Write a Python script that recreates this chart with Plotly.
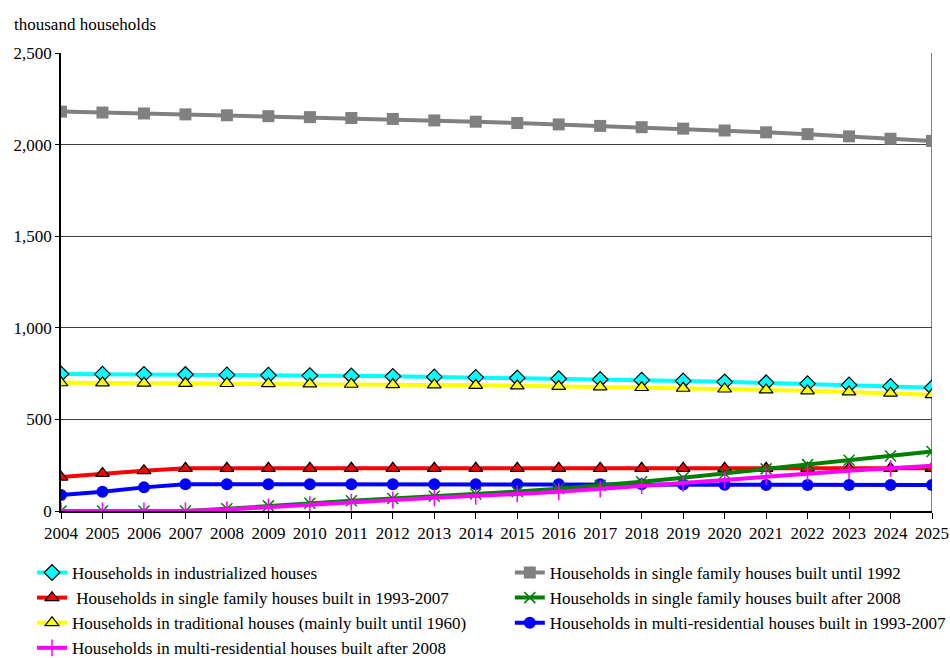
import plotly.graph_objects as go

years = list(range(2004, 2026))

industrialized = [748, 747, 746, 745, 743, 741, 739, 737, 735, 732, 729,
                  726, 722, 718, 714, 710, 705, 700, 695, 688, 680, 673]
sf_until_1992 = [2180, 2175, 2170, 2165, 2160, 2155, 2150, 2145, 2140, 2132, 2125,
                 2118, 2110, 2102, 2095, 2087, 2077, 2067, 2057, 2045, 2032, 2020]
sf_1993_2007 = [185, 205, 220, 233, 233, 233, 233, 233, 233, 233, 233,
                233, 233, 233, 233, 233, 233, 233, 233, 233, 233, 233]
sf_after_2008 = [0, 0, 0, 0, 12, 28, 42, 56, 68, 80, 93,
                 106, 122, 140, 160, 182, 205, 230, 253, 277, 300, 325]
traditional = [700, 699, 698, 697, 696, 695, 694, 692, 690, 688, 686,
               683, 680, 677, 674, 670, 666, 661, 656, 650, 643, 635]
mr_1993_2007 = [87, 105, 129, 146, 146, 146, 146, 146, 146, 146, 146,
                146, 146, 146, 146, 145, 143, 142, 142, 142, 142, 142]
mr_after_2008 = [0, 0, 0, 0, 8, 22, 35, 48, 60, 72, 80,
                 93, 105, 120, 138, 151, 169, 187, 205, 220, 233, 247]

y_ticks = [0, 500, 1000, 1500, 2000, 2500]

# (name, values, line colour, marker symbol, marker size, outline, legend, rank)
series = [
    ("Households in single family houses built until 1992", sf_until_1992,
     "#808080", "square", 12, None, "legend2", 1),
    ("Households in industrialized houses", industrialized,
     "#00FFFF", "diamond", 12, "black", "legend", 1),
    ("Households in traditional houses (mainly built until 1960)", traditional,
     "#FFFF00", "triangle-up", 12, "black", "legend", 3),
    (" Households in single family houses built in 1993-2007", sf_1993_2007,
     "#FF0000", "triangle-up", 12, "black", "legend", 2),
    ("Households in multi-residential houses built in 1993-2007", mr_1993_2007,
     "#0000FF", "circle", 12, None, "legend2", 3),
    ("Households in single family houses built after 2008", sf_after_2008,
     "#008000", "x-thin", 11, "#008000", "legend2", 2),
    ("Households in multi-residential houses built after 2008", mr_after_2008,
     "#FF00FF", "cross-thin", 12, "#FF00FF", "legend", 4),
]

fig = go.Figure()
for name, vals, color, symbol, size, outline, legend, rank in series:
    marker = dict(symbol=symbol, size=size, color=color)
    if symbol.endswith("-thin"):
        marker["line"] = dict(color=outline, width=1.5)
    elif outline:
        marker["line"] = dict(color=outline, width=1.2)
    else:
        marker["line"] = dict(width=0)
    fig.add_trace(go.Scatter(
        x=years, y=vals, name=name, mode="lines+markers",
        line=dict(color=color, width=4),
        marker=marker, legend=legend, legendrank=rank,
    ))

# right-hand border of the plotting area
fig.add_shape(type="line", xref="x", yref="paper", x0=2025, x1=2025, y0=0, y1=1,
              line=dict(color="#808080", width=2), layer="below")

fig.add_annotation(text="thousand households", xref="paper", yref="paper",
                   x=-0.0563, y=1.063, xanchor="left", yanchor="middle",
                   showarrow=False, font=dict(size=17, color="black"))

legend_common = dict(
    orientation="v", yanchor="top", xanchor="left", traceorder="normal",
    font=dict(size=17), itemwidth=30, bgcolor="rgba(0,0,0,0)", borderwidth=0,
)

fig.update_layout(
    width=950, height=658,
    margin=dict(l=61, r=18, t=53, b=147, autoexpand=False),
    paper_bgcolor="white", plot_bgcolor="white",
    font=dict(family="Liberation Serif, Times New Roman, serif", size=17, color="black"),
    showlegend=True,
    legend=dict(x=-0.0333, y=-0.096, **legend_common),
    legend2=dict(x=0.5153, y=-0.096, **legend_common),
    xaxis=dict(
        range=[2004, 2025], tickmode="array", tickvals=years,
        ticktext=[str(y) for y in years], showgrid=False,
        showline=True, linecolor="black", linewidth=1.5,
        ticks="outside", ticklen=6, tickcolor="black",
        tickfont=dict(size=17), zeroline=False,
    ),
    yaxis=dict(
        range=[0, 2500], tickmode="array", tickvals=y_ticks,
        tickformat=",d", showgrid=True, gridcolor="#404040", gridwidth=1,
        showline=True, linecolor="black", linewidth=1.5,
        ticks="outside", ticklen=4, tickcolor="black",
        tickfont=dict(size=17), zeroline=False,
    ),
)

fig.write_html("out.html")
